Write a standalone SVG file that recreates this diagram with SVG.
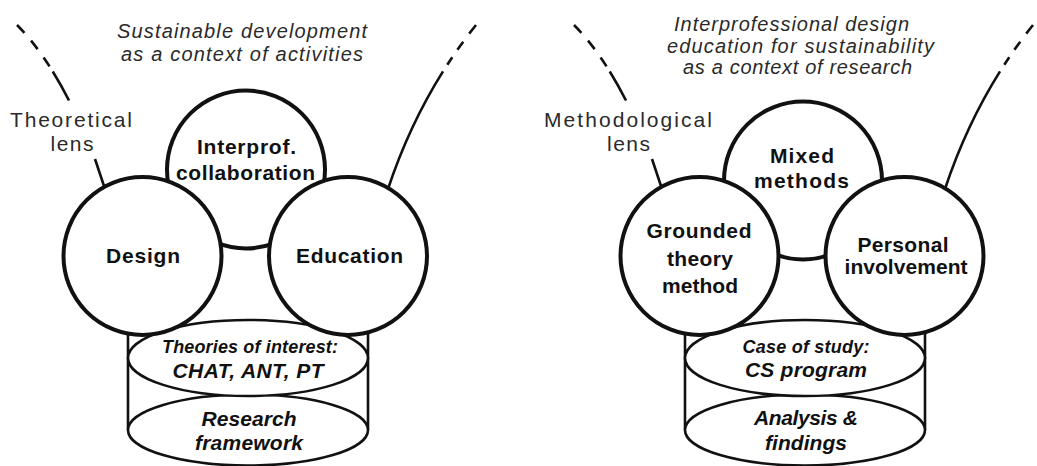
<svg xmlns="http://www.w3.org/2000/svg" width="1037" height="466" viewBox="0 0 1037 466">
  <style>
    .bg { fill: #ffffff; }
    .ring { fill: #ffffff; stroke: #111111; stroke-width: 4; }
    .drum { fill: #ffffff; stroke: #111111; stroke-width: 2.6; }
    .side { stroke: #111111; stroke-width: 2.6; fill: none; }
    .lens { fill: none; stroke: #111111; stroke-width: 2.6; }
    .dash-l { stroke-dasharray: 11 10 11 10 11 6 40; }
    .dash-r { stroke-dasharray: 11 10 10 9 9 8 400; }
    .node { font-family: "Liberation Sans", Arial, Helvetica, sans-serif; font-weight: bold; font-size: 21px; fill: #111111; text-anchor: middle; }
    .layer-s { font-family: "Liberation Sans", Arial, Helvetica, sans-serif; font-weight: bold; font-style: italic; font-size: 18px; fill: #111111; text-anchor: middle; }
    .layer { font-family: "Liberation Sans", Arial, Helvetica, sans-serif; font-weight: bold; font-style: italic; font-size: 21px; fill: #111111; text-anchor: middle; }
    .context { font-family: "Liberation Sans", Arial, Helvetica, sans-serif; font-style: italic; font-size: 20px; fill: #2a2a2a; text-anchor: middle; }
    .label { font-family: "Liberation Sans", Arial, Helvetica, sans-serif; font-size: 21px; fill: #2a2a2a; text-anchor: middle; }
  </style>

  <rect class="bg" x="0" y="0" width="1037" height="466"/>

  <!-- lens outlines (connectors) -->
  <g id="connectors">
    <path class="lens dash-l" d="M17,25 Q44.4,52.4 69,100.5"/>
    <path class="lens" d="M95,159 L104,186"/>
    <path class="lens dash-r" d="M476,25 Q418.7,96.6 388,189"/>
    <path class="lens dash-l" d="M574,25 Q601.4,52.4 626,100.5"/>
    <path class="lens" d="M652,159 L661,186"/>
    <path class="lens dash-r" d="M1033,25 Q975.7,96.6 945,189"/>
  </g>

  <!-- left panel: theoretical lens -->
  <g id="context-left">
    <text class="context" x="242" y="37.5" textLength="250" lengthAdjust="spacing">Sustainable development</text>
    <text class="context" x="242" y="61" textLength="242" lengthAdjust="spacing">as a context of activities</text>
  </g>
  <g id="lens-theoretical">
    <text class="label" x="71" y="127" textLength="122" lengthAdjust="spacing">Theoretical</text>
    <text class="label" x="72" y="151" textLength="43" lengthAdjust="spacing">lens</text>
  </g>

  <g id="framework-stack">
    <line class="side" x1="128" y1="320" x2="128" y2="430"/>
    <line class="side" x1="368" y1="320" x2="368" y2="430"/>
    <ellipse class="drum" cx="248" cy="430" rx="120" ry="35.5"/>
    <text class="layer" x="249" y="426" textLength="95" lengthAdjust="spacing">Research</text>
    <text class="layer" x="249" y="450" textLength="108" lengthAdjust="spacing">framework</text>
  </g>
  <g id="theories-layer">
    <ellipse class="drum" cx="248" cy="358" rx="120" ry="38"/>
    <text class="layer-s" x="250" y="353" textLength="176" lengthAdjust="spacing">Theories of interest:</text>
    <text class="layer" x="248" y="378" textLength="151" lengthAdjust="spacing">CHAT, ANT, PT</text>
  </g>

  <g id="interprof-collaboration">
    <circle class="ring" cx="246" cy="169.5" r="79"/>
    <text class="node" x="246.5" y="154" textLength="99" lengthAdjust="spacing">Interprof.</text>
    <text class="node" x="245.5" y="180" textLength="139" lengthAdjust="spacing">collaboration</text>
  </g>
  <g id="design">
    <circle class="ring" cx="142.5" cy="256" r="79"/>
    <text class="node" x="143" y="263" textLength="74" lengthAdjust="spacing">Design</text>
  </g>
  <g id="education">
    <circle class="ring" cx="348" cy="256" r="79"/>
    <text class="node" x="349.5" y="263" textLength="107" lengthAdjust="spacing">Education</text>
  </g>

  <!-- right panel: methodological lens -->
  <g id="context-right">
    <text class="context" x="791.5" y="30.5" textLength="235" lengthAdjust="spacing">Interprofessional design</text>
    <text class="context" x="800.5" y="52.5" textLength="267" lengthAdjust="spacing">education for sustainability</text>
    <text class="context" x="797.5" y="73.5" textLength="229" lengthAdjust="spacing">as a context of research</text>
  </g>
  <g id="lens-methodological">
    <text class="label" x="628" y="126.5" textLength="168" lengthAdjust="spacing">Methodological</text>
    <text class="label" x="628.5" y="151" textLength="43" lengthAdjust="spacing">lens</text>
  </g>

  <g id="findings-stack">
    <line class="side" x1="685" y1="320" x2="685" y2="430"/>
    <line class="side" x1="925" y1="320" x2="925" y2="430"/>
    <ellipse class="drum" cx="805" cy="430" rx="120" ry="35.5"/>
    <text class="layer" x="806" y="425" textLength="104" lengthAdjust="spacing">Analysis &amp;</text>
    <text class="layer" x="806" y="450" textLength="82" lengthAdjust="spacing">findings</text>
  </g>
  <g id="case-layer">
    <ellipse class="drum" cx="805" cy="358" rx="120" ry="38"/>
    <text class="layer-s" x="806" y="353" textLength="127" lengthAdjust="spacing">Case of study:</text>
    <text class="layer" x="806" y="377" textLength="122" lengthAdjust="spacing">CS program</text>
  </g>

  <g id="mixed-methods">
    <circle class="ring" cx="803" cy="180.5" r="79"/>
    <text class="node" x="802" y="162.5" textLength="64" lengthAdjust="spacing">Mixed</text>
    <text class="node" x="801.5" y="188" textLength="95" lengthAdjust="spacing">methods</text>
  </g>
  <g id="grounded-theory">
    <circle class="ring" cx="699.5" cy="256" r="79"/>
    <text class="node" x="699" y="238" textLength="105" lengthAdjust="spacing">Grounded</text>
    <text class="node" x="700" y="265.5" textLength="66" lengthAdjust="spacing">theory</text>
    <text class="node" x="700" y="292.5" textLength="76" lengthAdjust="spacing">method</text>
  </g>
  <g id="personal-involvement">
    <circle class="ring" cx="904.5" cy="256" r="79"/>
    <text class="node" x="903" y="252" textLength="91" lengthAdjust="spacing">Personal</text>
    <text class="node" x="906" y="274" textLength="123" lengthAdjust="spacing">involvement</text>
  </g>
</svg>
